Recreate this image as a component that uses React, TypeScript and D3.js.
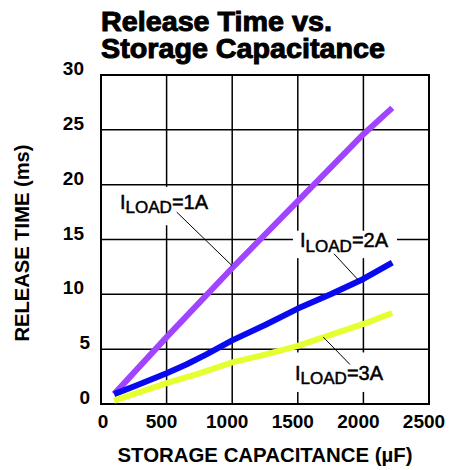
import React from "react";
import * as d3 from "d3";

// ---- data ----
const xTicks = [0, 500, 1000, 1500, 2000, 2500];
const yTicks = [0, 5, 10, 15, 20, 25, 30];

const cap1A = [100, 500, 1000, 1500, 2000, 2220];
const rel1A = [0.9, 6.1, 12.4, 18.5, 24.6, 27.0];

const cap2A = [100, 250, 500, 650, 800, 1000, 1250, 1500, 1750, 2000, 2220];
const rel2A = [0.9, 1.6, 2.8, 3.6, 4.5, 5.8, 7.2, 8.7, 10.0, 11.4, 12.9];

const cap3A = [100, 300, 500, 750, 1000, 1250, 1500, 1750, 2000, 2220];
const rel3A = [0.3, 1.1, 1.9, 2.8, 3.8, 4.5, 5.3, 6.3, 7.3, 8.3];

const seriesNames = ["1A", "2A", "3A"];
const seriesColors = ["#A044FF", "#0A0AF0", "#E6FF30"];

// annotation anchors in data coordinates
const labelAt = [
  [145, 17.8],
  [1517, 14.3],
  [1479, 2.2],
];
const leaderFrom = [
  [577, 17.5],
  [1776, 13.7],
  [1694, 6.1],
];
const leaderTo = [
  [1000, 12.6],
  [1961, 11.3],
  [1898, 3.6],
];
const boxX = [
  [84, 907],
  [1463, 2256],
  [1440, 2218],
];
const boxY = [
  [19.8, 16.3],
  [15.8, 13.3],
  [4.7, 1.1],
];

export default function App() {
  const W = 450;
  const H = 470;
  const x = d3.scaleLinear().domain([0, 2500]).range([101, 429]);
  const y = d3.scaleLinear().domain([0, 30]).range([404, 75]);
  const line = d3
    .line<[number, number]>()
    .x((d) => x(d[0]))
    .y((d) => y(d[1]));

  const series = [
    cap1A.map((c, i) => [c, rel1A[i]] as [number, number]),
    cap2A.map((c, i) => [c, rel2A[i]] as [number, number]),
    cap3A.map((c, i) => [c, rel3A[i]] as [number, number]),
  ];

  const font = "'Liberation Sans', Arial, Helvetica, sans-serif";

  return (
    <svg
      width={W}
      height={H}
      style={{ position: "absolute", left: 0, top: 0, background: "#fff" }}
      fontFamily={font}
    >
      <rect x={0} y={0} width={W} height={H} fill="#fff" />
      {/* title */}
      <text fontSize={28} fontWeight="bold" stroke="#000" strokeWidth={1}>
        <tspan x={101} y={31} textLength={231} lengthAdjust="spacingAndGlyphs">
          Release Time vs.
        </tspan>
        <tspan x={101} y={58} textLength={284} lengthAdjust="spacingAndGlyphs">
          Storage Capacitance
        </tspan>
      </text>

      {/* grid */}
      {xTicks.slice(1, -1).map((t) => (
        <line key={"gx" + t} x1={x(t)} x2={x(t)} y1={y(30)} y2={y(0)} stroke="#000" strokeWidth={1.5} />
      ))}
      {yTicks.slice(1, -1).map((t) => (
        <line key={"gy" + t} x1={x(0)} x2={x(2500)} y1={y(t)} y2={y(t)} stroke="#000" strokeWidth={1.5} />
      ))}
      <rect
        x={x(0)}
        y={y(30)}
        width={x(2500) - x(0)}
        height={y(0) - y(30)}
        fill="none"
        stroke="#000"
        strokeWidth={2}
      />

      {/* label boxes */}
      {boxX.map((bx, i) => (
        <rect
          key={"box" + i}
          x={x(bx[0])}
          y={y(boxY[i][0])}
          width={x(bx[1]) - x(bx[0])}
          height={y(boxY[i][1]) - y(boxY[i][0])}
          fill="#fff"
        />
      ))}

      {/* series lines */}
      {series.map((s, i) => (
        <path
          key={"s" + i}
          d={line(s) || ""}
          fill="none"
          stroke={seriesColors[i]}
          strokeWidth={6}
          strokeLinejoin="round"
        />
      ))}

      {/* leaders */}
      {leaderFrom.map((f, i) => (
        <line
          key={"ld" + i}
          x1={x(f[0])}
          y1={y(f[1])}
          x2={x(leaderTo[i][0])}
          y2={y(leaderTo[i][1])}
          stroke="#000"
          strokeWidth={1}
        />
      ))}

      {/* labels */}
      {labelAt.map((p, i) => (
        <text key={"lb" + i} x={x(p[0])} y={y(p[1])} fontSize={20} stroke="#000" strokeWidth={0.5}>
          I
          <tspan fontSize={17} dy={4.5}>
            LOAD
          </tspan>
          <tspan dy={-4.5}>={seriesNames[i]}</tspan>
        </text>
      ))}

      {/* y tick labels */}
      {yTicks.map((t) => (
        <text
          key={"yl" + t}
          x={t >= 10 ? 84 : 90}
          y={y(t)}
          textAnchor="end"
          fontSize={19}
          fontWeight="bold"
        >
          {t}
        </text>
      ))}

      {/* x tick labels */}
      {xTicks.map((t) => (
        <text
          key={"xl" + t}
          x={x(t) + (t === 0 ? 2 : -5)}
          y={428}
          textAnchor="middle"
          fontSize={19}
          fontWeight="bold"
        >
          {t}
        </text>
      ))}

      {/* axis titles */}
      <text
        x={265}
        y={462}
        textAnchor="middle"
        fontSize={20}
        fontWeight="bold"
        textLength={295}
        lengthAdjust="spacingAndGlyphs"
      >
        STORAGE CAPACITANCE (µF)
      </text>
      <text
        transform="translate(28.5,243) rotate(-90)"
        textAnchor="middle"
        fontSize={21}
        fontWeight="bold"
        textLength={197}
        lengthAdjust="spacingAndGlyphs"
      >
        RELEASE TIME (ms)
      </text>
    </svg>
  );
}
